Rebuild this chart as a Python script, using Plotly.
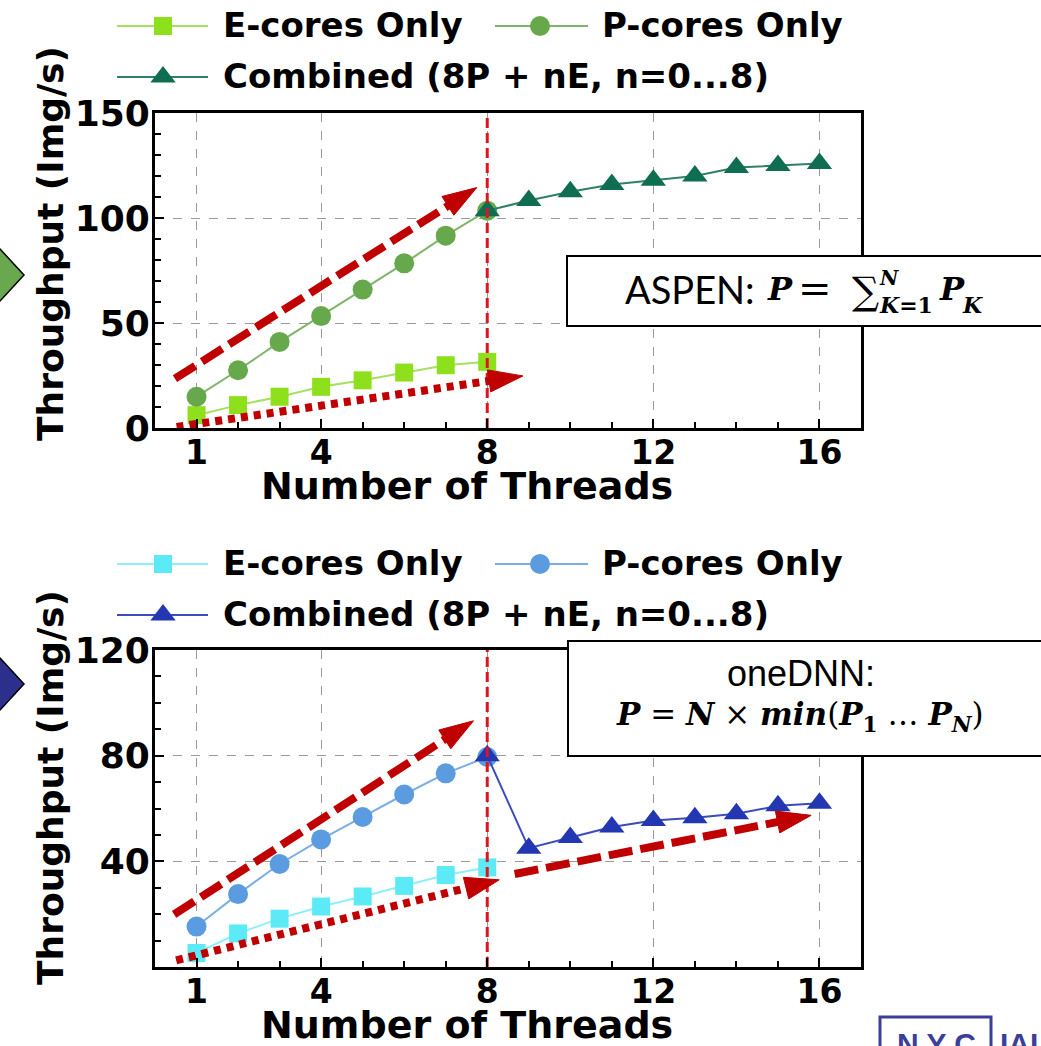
import plotly.graph_objects as go

# ---------------- data ----------------
threads_single = [1, 2, 3, 4, 5, 6, 7, 8]
threads_combined = [8, 9, 10, 11, 12, 13, 14, 15, 16]

aspen_e = [6.1, 10.9, 14.9, 19.6, 22.7, 26.4, 29.9, 31.5]
aspen_p = [14.9, 27.5, 41.0, 53.3, 65.9, 78.4, 91.6, 103.5]
aspen_c = [103.5, 108.3, 112.5, 116.0, 118.0, 120.0, 124.0, 125.0, 126.0]

onednn_e = [5.3, 12.7, 18.3, 22.9, 26.7, 30.7, 34.8, 37.7]
onednn_p = [15.3, 27.6, 39.0, 48.3, 56.8, 65.3, 73.3, 79.5]
onednn_c = [80.0, 45.0, 49.0, 53.0, 55.5, 56.5, 58.0, 61.0, 62.0]

x_tick_vals = [1, 4, 8, 12, 16]
y_tick_vals_top = [0, 50, 100, 150]
y_tick_vals_bottom = [40, 80, 120]

series_names = ["E-cores Only", "P-cores Only", "Combined (8P + nE, n=0...8)"]
aspen_colors = ["#8ee01c", "#67a84c", "#0f6e52"]
aspen_line_colors = ["#a6e060", "#7fb56a", "#2e8066"]
onednn_colors = ["#5ceaf7", "#5b9be0", "#2437b3"]
onednn_line_colors = ["#8cf0fa", "#7aaee6", "#3a4cbc"]
symbols = ["square", "circle", "triangle-up"]
marker_sizes = [18, 20, 22]

# trend arrows (start x, start y, tip x, tip y) in data units
aspen_arrow_dashed = [[0.48, 23.5], [7.75, 114.5]]
aspen_arrow_dotted = [[0.52, 0.5], [8.86, 24.8]]
onednn_arrow_dashed = [[0.46, 19.9], [7.67, 93.2]]
onednn_arrow_dotted = [[0.51, 2.5], [8.29, 33.0]]
onednn_arrow_dashed2 = [[8.66, 35.2], [15.8, 57.4]]

W, H = 1041, 1046
FONT = "DejaVu Sans"
ARROW_RED = "#c00000"
VLINE_RED = "#e0141e"

fig = go.Figure()


def add_series(xa, ya, xs, ys, color, lcolor, sym, size):
    fig.add_trace(go.Scatter(
        x=xs, y=ys, xaxis=xa, yaxis=ya, mode="lines+markers",
        line=dict(color=lcolor, width=2),
        marker=dict(symbol=sym, size=size, color=color, line=dict(width=0)),
        showlegend=False, cliponaxis=False, hoverinfo="skip"))


def add_arrow(xa, ya, pts, dash):
    fig.add_trace(go.Scatter(
        x=[pts[0][0], pts[1][0]], y=[pts[0][1], pts[1][1]], xaxis=xa, yaxis=ya,
        mode="lines+markers",
        line=dict(color=ARROW_RED, width=8, dash=dash),
        marker=dict(symbol="arrow", angleref="previous", size=[0, 36],
                    color=ARROW_RED, opacity=1, line=dict(width=1, color=ARROW_RED)),
        showlegend=False, cliponaxis=False, hoverinfo="skip"))


def add_vline(xa, ya, ymax):
    fig.add_trace(go.Scatter(
        x=[8, 8], y=[0, ymax], xaxis=xa, yaxis=ya, mode="lines",
        line=dict(color=VLINE_RED, width=3, dash="10px,5px"),
        showlegend=False, hoverinfo="skip"))


# top panel (ASPEN)
add_series("x", "y", threads_single, aspen_e, aspen_colors[0], aspen_line_colors[0], symbols[0], marker_sizes[0])
add_series("x", "y", threads_single, aspen_p, aspen_colors[1], aspen_line_colors[1], symbols[1], marker_sizes[1])
add_series("x", "y", threads_combined, aspen_c, aspen_colors[2], aspen_line_colors[2], symbols[2], marker_sizes[2])
add_vline("x", "y", 150)
add_arrow("x", "y", aspen_arrow_dashed, "24px,8px")
add_arrow("x", "y", aspen_arrow_dotted, "7px,6px")

# bottom panel (oneDNN)
add_series("x2", "y2", threads_single, onednn_e, onednn_colors[0], onednn_line_colors[0], symbols[0], marker_sizes[0])
add_series("x2", "y2", threads_single, onednn_p, onednn_colors[1], onednn_line_colors[1], symbols[1], marker_sizes[1])
add_series("x2", "y2", threads_combined, onednn_c, onednn_colors[2], onednn_line_colors[2], symbols[2], marker_sizes[2])
add_vline("x2", "y2", 120)
add_arrow("x2", "y2", onednn_arrow_dashed, "24px,8px")
add_arrow("x2", "y2", onednn_arrow_dotted, "7px,6px")
add_arrow("x2", "y2", onednn_arrow_dashed2, "24px,8px")

# ---------- manual legends on a pixel overlay axis ----------
legend_layout = [
    (26, [(117, 208, 163, 221, 0), (495, 588, 540, 600, 1)]),
    (77, [(117, 208, 163, 221, 2)]),
]
annotations = []
for panel_offset, colors, lcolors in [(0, aspen_colors, aspen_line_colors),
                                       (538, onednn_colors, onednn_line_colors)]:
    for row_y, items in legend_layout:
        for (lx0, lx1, mx, tx, si) in items:
            yy = row_y + panel_offset
            fig.add_trace(go.Scatter(
                x=[lx0, lx1], y=[yy, yy], xaxis="x3", yaxis="y3", mode="lines",
                line=dict(color=lcolors[si], width=2), showlegend=False, hoverinfo="skip"))
            fig.add_trace(go.Scatter(
                x=[mx], y=[yy], xaxis="x3", yaxis="y3", mode="markers",
                marker=dict(symbol=symbols[si], size=marker_sizes[si], color=colors[si]),
                showlegend=False, hoverinfo="skip"))
            annotations.append(dict(
                x=tx, y=yy - 1, xref="x3", yref="y3", xanchor="left", yanchor="middle",
                text=series_names[si], showarrow=False,
                font=dict(family=FONT, size=34, color="black", weight="bold")))

# axis titles
for yc in (244, 788):
    annotations.append(dict(x=50, y=yc, xref="x3", yref="y3", text="Throughput (Img/s)",
                            textangle=-90, showarrow=False, xanchor="center", yanchor="middle",
                            font=dict(family=FONT, size=36, color="black", weight="bold")))
for yc in (486, 1025):
    annotations.append(dict(x=467, y=yc, xref="x3", yref="y3", text="Number of Threads",
                            showarrow=False, xanchor="center", yanchor="middle",
                            font=dict(family=FONT, size=38, color="black", weight="bold")))

# formula boxes
SERIF = "DejaVu Serif"
annotations += [
    dict(x=623, y=289, xref="x3", yref="y3", text="ASPEN:", showarrow=False,
         xanchor="left", yanchor="middle", font=dict(family="Lato", size=38, color="black")),
    dict(x=765, y=289, xref="x3", yref="y3", text="<b><i>P</i></b>", showarrow=False,
         xanchor="left", yanchor="middle", font=dict(family=SERIF, size=32, color="black")),
    dict(x=815, y=288, xref="x3", yref="y3", text="=", showarrow=False,
         xanchor="center", yanchor="middle", font=dict(family=SERIF, size=40, color="black")),
    dict(x=865, y=291, xref="x3", yref="y3", text="∑", showarrow=False,
         xanchor="center", yanchor="middle", font=dict(family=SERIF, size=38, color="black")),
    dict(x=877, y=278, xref="x3", yref="y3", text="<b><i>N</i></b>", showarrow=False,
         xanchor="left", yanchor="middle", font=dict(family=SERIF, size=20, color="black")),
    dict(x=877, y=305, xref="x3", yref="y3", text="<b><i>K</i>=1</b>", showarrow=False,
         xanchor="left", yanchor="middle", font=dict(family=SERIF, size=22, color="black")),
    dict(x=937, y=289, xref="x3", yref="y3", text="<b><i>P</i></b>", showarrow=False,
         xanchor="left", yanchor="middle", font=dict(family=SERIF, size=32, color="black")),
    dict(x=960, y=305, xref="x3", yref="y3", text="<b><i>K</i></b>", showarrow=False,
         xanchor="left", yanchor="middle", font=dict(family=SERIF, size=22, color="black")),
    dict(x=801, y=673, xref="x3", yref="y3", text="oneDNN:", showarrow=False,
         xanchor="center", yanchor="middle",
         font=dict(family="Liberation Sans", size=36, color="black")),
    dict(x=800, y=716, xref="x3", yref="y3",
         text="<b><i>P</i></b> = <b><i>N</i></b> × <b><i>min</i></b>(<b><i>P</i></b><sub><b>1</b></sub> … <b><i>P</i></b><sub><b><i>N</i></b></sub>)",
         showarrow=False, xanchor="center", yanchor="middle",
         font=dict(family=SERIF, size=31, color="black")),
    # logo fragment
    dict(x=936, y=1025, xref="x3", yref="y3", text="<b>N Y C</b>", showarrow=False,
         xanchor="center", yanchor="top", font=dict(family="Liberation Sans", size=30, color="#3b3f99")),
    dict(x=998, y=1025, xref="x3", yref="y3", text="<b>IAI</b>", showarrow=False,
         xanchor="left", yanchor="top", font=dict(family="Liberation Sans", size=30, color="#3b3f99")),
]

shapes = [
    dict(type="rect", xref="x3", yref="y3", x0=567, x1=1060, y0=256, y1=326,
         fillcolor="white", line=dict(color="black", width=2), layer="above"),
    dict(type="rect", xref="x3", yref="y3", x0=568, x1=1060, y0=641, y1=756,
         fillcolor="white", line=dict(color="black", width=2), layer="above"),
    dict(type="path", xref="x3", yref="y3", path="M -30,249 L 0,249 L 24,275 L 0,301 L -30,301 Z",
         fillcolor="#69a84f", line=dict(color="black", width=1.5), layer="above"),
    dict(type="path", xref="x3", yref="y3", path="M -30,658 L 0,658 L 24,684 L 0,710 L -30,710 Z",
         fillcolor="#2c2f8c", line=dict(color="black", width=1.5), layer="above"),
    dict(type="rect", xref="x3", yref="y3", x0=880, x1=991, y0=1017, y1=1070,
         line=dict(color="#3b3f99", width=3), layer="above"),
]

x_dom = [155 / W, 861 / W]
top_dom = [(H - 428) / H, (H - 113) / H]
bot_dom = [(H - 967) / H, (H - 650) / H]

common_x = dict(range=[0, 17], tickvals=x_tick_vals, ticktext=[str(v) for v in x_tick_vals],
                ticks="inside", ticklen=9, tickwidth=2, tickcolor="black",
                showline=True, mirror=True, linecolor="black", linewidth=3,
                showgrid=True, gridcolor="#9a9a9a", griddash="dash", gridwidth=1,
                zeroline=False, automargin=False, ticklabelstandoff=-7,
                tickfont=dict(family=FONT, size=33, color="black", weight="bold"),
                minor=dict(dtick=1, tick0=0, ticks="inside", ticklen=6, tickwidth=2,
                           tickcolor="black", showgrid=False))
common_y = dict(ticks="inside", ticklen=9, tickwidth=2, tickcolor="black",
                showline=True, mirror=True, linecolor="black", linewidth=3,
                showgrid=True, gridcolor="#9a9a9a", griddash="dash", gridwidth=1,
                zeroline=False, automargin=False, ticklabelstandoff=-5,
                tickfont=dict(family=FONT, size=36, color="black", weight="bold"),
                minor=dict(dtick=10, tick0=0, ticks="inside", ticklen=6, tickwidth=2,
                           tickcolor="black", showgrid=False))

fig.update_layout(
    template="none",
    width=W, height=H, margin=dict(l=0, r=0, t=0, b=0, pad=0, autoexpand=False),
    paper_bgcolor="white", plot_bgcolor="rgba(0,0,0,0)",
    showlegend=False,
    xaxis=dict(domain=x_dom, anchor="y", **common_x),
    yaxis=dict(domain=top_dom, anchor="x", range=[0, 150], tickvals=y_tick_vals_top, **common_y),
    xaxis2=dict(domain=x_dom, anchor="y2", **common_x),
    yaxis2=dict(domain=bot_dom, anchor="x2", range=[0, 120], tickvals=y_tick_vals_bottom, **common_y),
    xaxis3=dict(domain=[0, 1], anchor="y3", range=[0, W], visible=False, automargin=False),
    yaxis3=dict(domain=[0, 1], anchor="x3", range=[H, 0], visible=False, automargin=False),
    annotations=annotations, shapes=shapes,
)

fig.write_html("out.html", config={"displayModeBar": False},
               post_script="document.body.style.margin='0px';document.body.style.overflow='hidden';")
